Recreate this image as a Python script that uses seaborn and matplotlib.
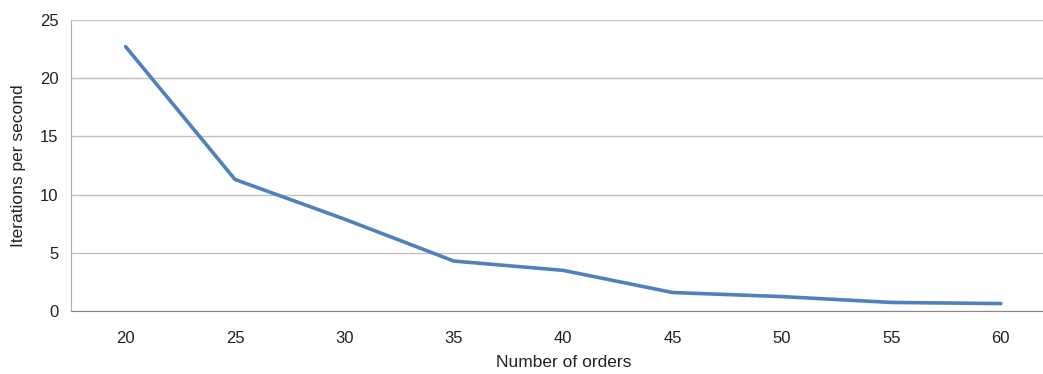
import matplotlib
matplotlib.use("Agg")
import matplotlib.pyplot as plt
import pandas as pd
import seaborn as sns

orders = ["20", "25", "30", "35", "40", "45", "50", "55", "60"]
iterations = [22.7, 11.3, 7.9, 4.3, 3.5, 1.6, 1.25, 0.75, 0.65]

sns.set_style("white")
plt.rcParams["font.family"] = ["Liberation Sans", "DejaVu Sans"]

df = pd.DataFrame({"orders": orders, "iterations": iterations})

fig = plt.figure(figsize=(10.43, 3.74), dpi=100)
ax = fig.add_axes([0.068, 0.168, 0.944, 0.779])
sns.lineplot(data=df, x="orders", y="iterations", ax=ax, color="#4f81bd",
             linewidth=2.6, sort=False)

ax.set_xlim(-0.5, 8.5)
ax.set_ylim(0, 25)
ax.set_yticks([0, 5, 10, 15, 20, 25])
ax.yaxis.grid(True, color="#c0c0c0", linewidth=1)
ax.xaxis.grid(False)
ax.set_axisbelow(True)
ax.tick_params(axis="both", length=0, labelsize=12, colors="#222222")
ax.tick_params(axis="x", pad=14)
ax.tick_params(axis="y", pad=9)
for side in ["top", "right"]:
    ax.spines[side].set_visible(False)
ax.spines["left"].set_color("#b0b0b0")
ax.spines["bottom"].set_color("#888888")
ax.set_xlabel("Number of orders", fontsize=12.5, labelpad=7, color="#222222")
ax.set_ylabel("Iterations per second", fontsize=12.5, labelpad=10, color="#222222")

fig.savefig("out.png", dpi=100)
